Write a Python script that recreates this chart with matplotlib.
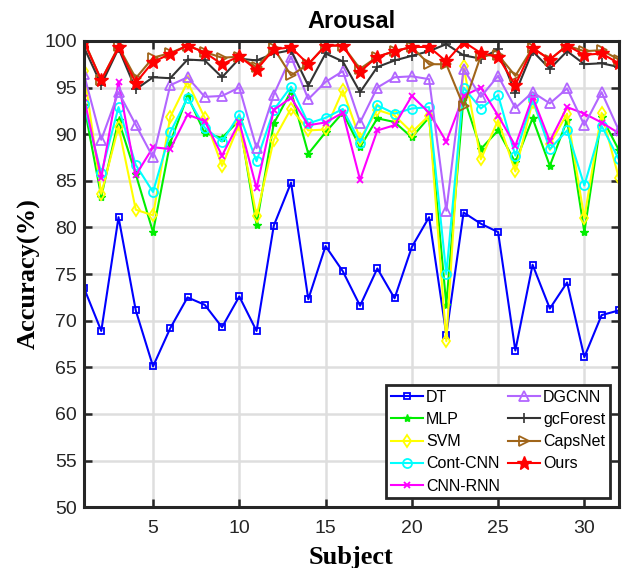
import matplotlib
matplotlib.use("Agg")
import matplotlib.pyplot as plt
import numpy as np

subjects = list(range(1, 33))

dt = [73.5, 68.9, 81.1, 71.1, 65.1, 69.2, 72.5, 71.7, 69.3, 72.6, 68.9, 80.2, 84.8, 72.3, 78.0, 75.3,
      71.6, 75.6, 72.4, 77.9, 81.1, 68.5, 81.6, 80.4, 79.5, 66.8, 76.0, 71.3, 74.1, 66.1, 70.6, 71.1]
mlp = [93.1, 83.3, 91.5, 85.7, 79.5, 89.1, 94.1, 90.1, 89.6, 91.5, 80.3, 91.15, 94.6, 87.9, 90.2, 92.3,
       88.6, 91.7, 91.3, 89.65, 91.8, 71.7, 94.0, 88.4, 90.4, 86.97, 91.7, 86.6, 91.5, 79.5, 91.85, 88.3]
svm = [96.75, 83.6, 90.8, 81.9, 81.3, 91.85, 95.6, 91.75, 86.6, 91.1, 81.2, 89.4, 92.75, 90.4, 90.5, 94.7,
       89.5, 92.6, 92.0, 90.2, 92.0, 67.8, 97.3, 87.3, 91.5, 86.0, 93.5, 88.9, 92.2, 81.0, 92.3, 85.3]
cont_cnn = [93.2, 85.8, 92.9, 86.7, 83.8, 90.2, 93.9, 90.7, 89.2, 92.1, 87.1, 92.6, 95.1, 91.15, 91.75, 92.7,
            89.1, 93.1, 92.2, 92.75, 92.9, 75.0, 95.0, 92.75, 94.2, 87.7, 93.75, 88.4, 90.4, 84.5, 90.9, 87.3]
cnn_rnn = [93.9, 85.3, 95.6, 85.6, 88.6, 88.4, 92.1, 91.4, 87.7, 91.3, 84.2, 92.6, 93.9, 90.96, 91.25, 92.3,
           85.1, 90.4, 90.96, 94.1, 92.3, 89.2, 94.1, 95.0, 92.0, 88.75, 94.0, 89.25, 92.9, 92.2, 91.25, 90.1]
dgcnn = [96.4, 89.4, 94.5, 91.0, 87.5, 95.25, 96.1, 94.0, 94.1, 95.0, 88.5, 94.25, 98.3, 93.75, 95.6, 96.75,
         91.25, 95.0, 96.1, 96.2, 95.9, 81.8, 97.0, 94.0, 96.25, 92.8, 94.5, 93.3, 94.9, 90.96, 94.5, 90.4]
gcforest = [99.3, 95.3, 99.2, 94.8, 96.1, 96.0, 98.0, 97.9, 96.1, 98.1, 97.9, 98.65, 99.0, 95.2, 98.65, 97.8,
            94.5, 97.2, 97.9, 98.4, 98.9, 99.65, 98.45, 98.1, 99.1, 94.4, 98.9, 97.0, 98.9, 97.5, 97.6, 97.2]
capsnet = [100.0, 95.8, 99.4, 96.0, 98.2, 98.7, 99.5, 98.8, 98.2, 98.3, 97.2, 99.2, 96.3, 97.5, 99.5, 99.5,
           97.0, 98.3, 98.9, 99.35, 97.5, 97.5, 93.0, 98.4, 98.5, 96.25, 99.25, 98.0, 99.5, 98.9, 99.0, 98.0]
ours = [99.9, 95.8, 99.3, 95.5, 97.75, 98.6, 99.5, 98.75, 97.5, 98.35, 96.9, 99.1, 99.3, 97.5, 99.5, 99.5,
        96.7, 98.3, 98.9, 99.35, 99.35, 97.8, 99.9, 98.7, 98.3, 95.25, 99.25, 98.0, 99.5, 98.5, 98.65, 97.6]

labels = ["DT", "MLP", "SVM", "Cont-CNN", "CNN-RNN", "DGCNN", "gcForest", "CapsNet", "Ours"]
x_ticks = [5, 10, 15, 20, 25, 30]
y_ticks = [50, 55, 60, 65, 70, 75, 80, 85, 90, 95, 100]

series = [dt, mlp, svm, cont_cnn, cnn_rnn, dgcnn, gcforest, capsnet, ours]
styles = [
    dict(color="#0000FF", marker="s", ms=4.5, mfc="none", mew=1.3),
    dict(color="#00EE00", marker="*", ms=6, mfc="#00EE00", mew=1.0),
    dict(color="#FFFF00", marker="d", ms=6, mfc="none", mew=1.3),
    dict(color="#00FFFF", marker="o", ms=6.5, mfc="none", mew=1.3),
    dict(color="#FF00FF", marker="x", ms=5, mfc="none", mew=1.3),
    dict(color="#B266FF", marker="^", ms=7, mfc="none", mew=1.3),
    dict(color="#333333", marker="+", ms=7, mfc="none", mew=1.2),
    dict(color="#A0651A", marker=">", ms=7, mfc="none", mew=1.3),
    dict(color="#FF0000", marker="*", ms=10, mfc="#FF0000", mew=1.0),
]

fig = plt.figure(figsize=(6.27, 5.68), dpi=100)
ax = fig.add_axes([0.134, 0.107, 0.853, 0.821])

for data, lab, st in zip(series, labels, styles):
    ax.plot(subjects, data, label=lab, lw=1.5, color=st["color"], marker=st["marker"],
            markersize=st["ms"], markerfacecolor=st["mfc"], markeredgecolor=st["color"],
            markeredgewidth=st["mew"])

ax.set_xlim(1, 32)
ax.set_ylim(50, 100)
ax.set_xticks(x_ticks)
ax.set_yticks(y_ticks)
ax.grid(True, color="#DEDEDE", lw=1.8)
ax.set_axisbelow(True)
for sp in ax.spines.values():
    sp.set_linewidth(2.2)
    sp.set_color("#262626")
ax.tick_params(direction="in", length=6, width=1.8, top=True, right=True,
               labelsize=14, colors="#262626", pad=5)
ax.tick_params(axis="x", pad=9)
for lbl in ax.get_xticklabels() + ax.get_yticklabels():
    lbl.set_fontfamily("Liberation Sans")
    lbl.set_color("#262626")

ax.set_title("Arousal", fontsize=17, fontweight="bold", fontfamily="Liberation Sans", pad=9)
ax.set_xlabel("Subject", fontsize=19, fontweight="bold", fontfamily="Liberation Serif", labelpad=7)
ax.set_ylabel("Accuracy(%)", fontsize=19, fontweight="bold", fontfamily="Liberation Serif", labelpad=3)

leg = ax.legend(loc="lower right", ncol=2, prop={"family": "Liberation Sans", "size": 11.5},
                frameon=True, fancybox=False, edgecolor="#262626", framealpha=1,
                handlelength=2.0, handletextpad=0.2, columnspacing=0.5, labelspacing=0.45,
                borderpad=0.3, borderaxespad=0.55)
leg.get_frame().set_linewidth(2.0)

fig.savefig("out.png", dpi=100)
